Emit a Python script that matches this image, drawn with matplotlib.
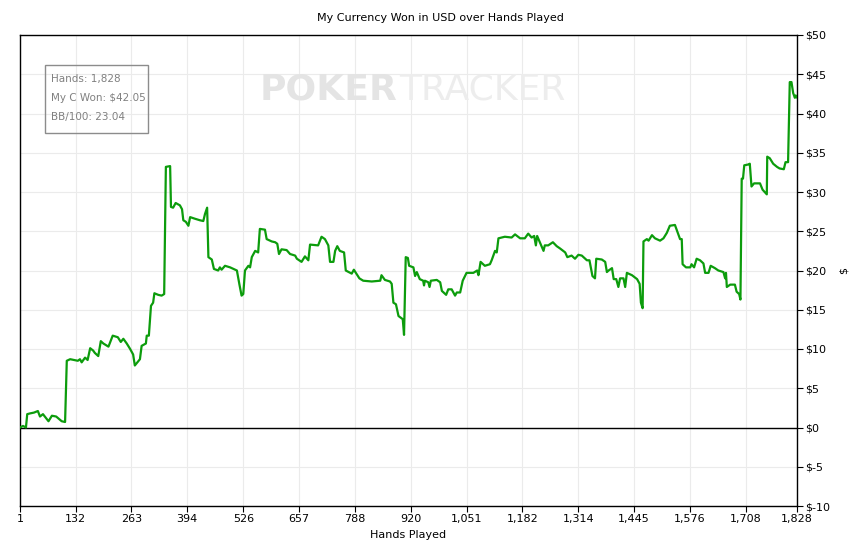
import matplotlib
matplotlib.use("Agg")
import matplotlib.pyplot as plt
from matplotlib.ticker import FixedLocator, FuncFormatter
from matplotlib.patches import Rectangle

hands = [1, 8, 15, 18, 25, 34, 43, 48, 55, 68, 76, 86, 99, 107, 111, 119, 137, 142, 146, 154,
         160, 166, 173, 177, 185, 191, 197, 209, 219, 231, 238, 244, 252, 260, 267, 271, 283, 287,
         297, 299, 304, 309, 314, 317, 326, 334, 340, 344, 354, 356, 361, 367, 377, 382, 385, 391,
         397, 401, 412, 424, 432, 436, 441, 444, 452, 457, 467, 471, 475, 483, 495, 503, 511, 517,
         522, 526, 530, 538, 542, 546, 554, 561, 565, 577, 581, 593, 601, 606, 610, 616, 628, 636,
         648, 652, 663, 671, 679, 683, 702, 710, 718, 726, 730, 738, 742, 747, 753, 763, 767, 781,
         786, 792, 799, 808, 828, 848, 851, 859, 871, 875, 879, 885, 891, 901, 904, 908, 913, 916,
         926, 930, 934, 941, 949, 951, 953, 961, 964, 967, 981, 989, 993, 1003, 1008, 1016, 1024,
         1028, 1036, 1042, 1051, 1067, 1076, 1079, 1084, 1094, 1106, 1110, 1118, 1122, 1126, 1141,
         1157, 1165, 1177, 1188, 1196, 1204, 1210, 1214, 1217, 1225, 1232, 1235, 1243, 1254, 1263,
         1271, 1283, 1288, 1298, 1306, 1314, 1322, 1334, 1340, 1347, 1353, 1356, 1369, 1377, 1381,
         1385, 1393, 1397, 1403, 1408, 1412, 1420, 1424, 1428, 1440, 1452, 1458, 1461, 1465, 1467,
         1475, 1479, 1487, 1494, 1506, 1514, 1522, 1529, 1541, 1547, 1553, 1557, 1559, 1567, 1577,
         1580, 1586, 1592, 1600, 1608, 1612, 1620, 1625, 1635, 1643, 1655, 1659, 1661, 1663, 1671,
         1682, 1686, 1692, 1695, 1698, 1701, 1704, 1713, 1717, 1721, 1727, 1733, 1741, 1747, 1757,
         1758, 1764, 1772, 1781, 1787, 1797, 1801, 1807, 1811, 1815, 1819, 1823, 1825, 1828]

won = [0.0, 0.2, 0.0, 1.7, 1.8, 1.9, 2.1, 1.4, 1.7, 0.8, 1.5, 1.4, 0.8, 0.7, 8.5, 8.7, 8.5, 8.7, 8.3, 8.9,
       8.6, 10.1, 9.8, 9.5, 9.1, 11.0, 10.7, 10.3, 11.7, 11.5, 10.9, 11.3, 10.7, 10.0, 9.3, 7.9, 8.7, 10.4,
       10.7, 11.7, 11.7, 15.5, 15.9, 17.1, 16.9, 16.8, 17.0, 33.2, 33.3, 28.1, 28.0, 28.6, 28.3, 27.8, 26.4, 26.2,
       25.7, 26.8, 26.6, 26.4, 26.3, 27.2, 28.0, 21.7, 21.4, 20.2, 20.0, 20.4, 20.1, 20.6, 20.4, 20.2, 20.0, 18.2,
       16.8, 17.0, 20.0, 20.6, 20.4, 21.7, 22.5, 22.3, 25.3, 25.2, 24.0, 23.7, 23.6, 23.4, 22.1, 22.7, 22.6, 22.1,
       21.9, 21.5, 21.1, 21.8, 21.3, 23.3, 23.2, 24.3, 24.0, 23.2, 21.1, 21.1, 22.5, 23.1, 22.5, 22.3, 20.0, 19.6,
       20.1, 19.6, 19.0, 18.7, 18.6, 18.7, 19.4, 18.8, 18.6, 18.3, 15.9, 15.7, 14.2, 13.8, 11.8, 21.7, 21.6, 20.6,
       20.4, 19.3, 19.8, 18.9, 18.7, 18.1, 18.7, 18.5, 17.9, 18.7, 18.8, 18.5, 17.4, 16.9, 17.6, 17.6, 16.8,
       17.2, 17.2, 18.7, 19.7, 19.7, 20.0, 19.4, 21.1, 20.6, 20.8, 21.3, 22.5, 22.3, 24.1, 24.3,
       24.2, 24.6, 24.1, 24.1, 24.7, 24.2, 24.4, 23.2, 24.4, 23.4, 22.5, 23.2, 23.2, 23.6, 23.1,
       22.8, 22.3, 21.7, 21.9, 21.5, 22.0, 21.9, 21.3, 21.3, 19.3, 19.0, 21.5, 21.4, 21.1, 19.8,
       20.0, 20.3, 18.9, 18.9, 17.9, 19.0, 19.0, 17.9, 19.7, 19.4, 18.9, 18.3, 15.9, 15.2, 23.7,
       24.0, 23.8, 24.5, 24.1, 23.8, 24.1, 24.8, 25.7, 25.8, 24.9, 24.0, 24.0, 20.8, 20.4, 20.4,
       20.8, 20.4, 21.5, 21.3, 20.9, 19.7, 19.7, 20.6, 20.3, 20.0, 19.8, 19.0, 19.7, 17.9, 18.2,
       18.2, 17.3, 17.0, 16.3, 31.7, 31.7, 33.4, 33.5, 33.6, 30.7, 31.1, 31.1, 31.1, 30.3, 29.7,
       34.5, 34.3, 33.6, 33.2, 33.0, 32.9, 33.8, 33.8, 44.0, 44.0, 42.6, 42.0, 42.3, 42.05]

x_ticks = [1, 132, 263, 394, 526, 657, 788, 920, 1051, 1182, 1314, 1445, 1576, 1708, 1828]
y_ticks = [-10, -5, 0, 5, 10, 15, 20, 25, 30, 35, 40, 45, 50]
title = "My Currency Won in USD over Hands Played"
info_lines = ["Hands: 1,828", "My C Won: $42.05", "BB/100: 23.04"]

W, H = 863, 546
plt.rcParams['font.family'] = ['DejaVu Sans']
fig = plt.figure(figsize=(W / 100, H / 100), dpi=100)
L, R, T, B = 20, 797, 35, 506
ax = fig.add_axes([L / W, 1 - B / H, (R - L) / W, (B - T) / H])

# watermark
fig.text(397 / W, 1 - 100 / H, "POKER", ha='right', va='baseline', fontsize=26,
         fontweight='bold', color='#e4e4e4', zorder=0)
fig.text(399 / W, 1 - 100 / H, "TRACKER", ha='left', va='baseline', fontsize=26,
         color='#ededed', zorder=0)
ax.patch.set_alpha(0)

ax.plot(hands, won, color='#0c9c0c', lw=1.6, zorder=3)
ax.axhline(0, color='black', lw=1, zorder=2)

ax.set_xlim(1, 1828)
ax.set_ylim(-10, 50)
ax.xaxis.set_major_locator(FixedLocator(x_ticks))
ax.xaxis.set_major_formatter(FuncFormatter(lambda v, p: f"{int(round(v)):,}"))
ax.yaxis.set_major_locator(FixedLocator(y_ticks))
ax.yaxis.set_major_formatter(FuncFormatter(lambda v, p: f"${int(round(v))}"))
ax.yaxis.tick_right()
ax.yaxis.set_label_position('right')
ax.tick_params(axis='both', labelsize=8, length=4, width=0.8, color='black', direction='out', pad=2)
ax.grid(True, color='#ebebeb', lw=0.8, zorder=1)
ax.set_axisbelow(True)
for s in ax.spines.values():
    s.set_color('black')
    s.set_linewidth(1)

ax.set_xlabel("Hands Played", fontsize=8, labelpad=4)
ax.set_ylabel("$", fontsize=8, rotation=90, labelpad=6)
fig.text(440 / W, 1 - 18 / H, title, ha='center', va='center', fontsize=8)

# info box
ax.add_patch(Rectangle(((45 - L) / (R - L), 1 - (133 - T) / (B - T)), (148 - 45) / (R - L),
                       (133 - 65) / (B - T), transform=ax.transAxes, fill=False,
                       edgecolor='#8c8c8c', lw=1, zorder=4))
for i, line in enumerate(info_lines):
    ax.text((51 - L) / (R - L), 1 - (79 + 19 * i - T) / (B - T), line, transform=ax.transAxes,
            ha='left', va='center', fontsize=7.5, color='#808080', zorder=4)

fig.savefig("out.png", dpi=100)
